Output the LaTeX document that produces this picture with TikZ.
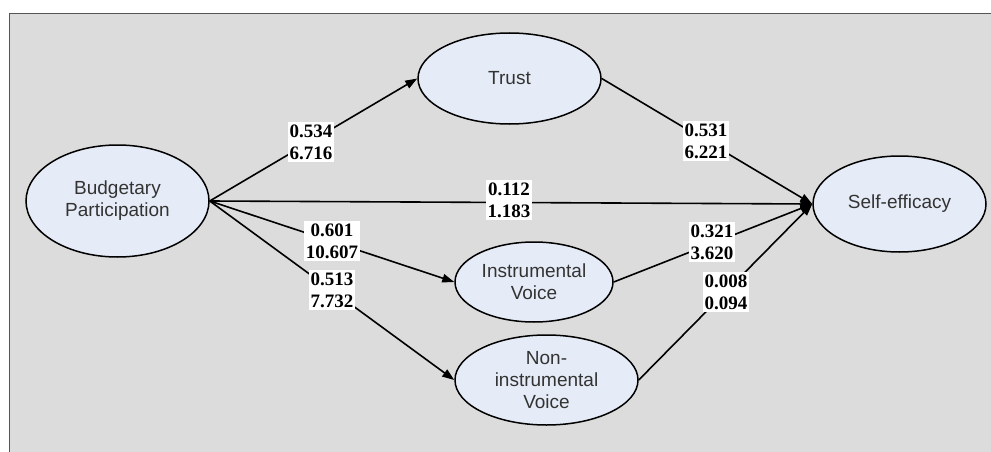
\documentclass[tikz,border=0pt]{standalone}
\usepackage{fontspec}
\setmainfont{Liberation Serif}
\setsansfont{Liberation Sans}
\usetikzlibrary{shapes.geometric,arrows.meta}
\definecolor{bgc}{HTML}{DCDCDD}
\definecolor{ellc}{HTML}{E6ECF7}
\definecolor{framec}{HTML}{555555}
\definecolor{txtc}{HTML}{333333}
\tikzset{
  latent/.style={ellipse, draw=black, line width=1.5pt, fill=ellc, inner sep=0pt,
    align=center, text=txtc, font=\sffamily\fontsize{19}{22}\selectfont},
  coef/.style={fill=white, inner xsep=1.5pt, inner ysep=2.5pt, align=center,
    font=\bfseries\fontsize{19}{22}\selectfont},
  path/.style={line width=1.6pt, -{Triangle[length=12pt,width=8.5pt]}}
}
\begin{document}
\begin{tikzpicture}[x=1pt,y=-1pt]
\useasboundingbox (0,0) rectangle (991,452);
\fill[white] (0,0) rectangle (991,452);
\draw[fill=bgc, draw=framec, line width=1.5pt] (9.5,13.5) rectangle (1000,470);

\node[latent, minimum width=183pt, minimum height=112pt] (bp) at (117.5,201) {Budgetary\\Participation};
\node[latent, minimum width=183pt, minimum height=91pt] (tr) at (509.5,78.5) {Trust};
\node[latent, minimum width=173pt, minimum height=96pt] (se) at (899.5,204) {Self-efficacy};
\node[latent, minimum width=158pt, minimum height=80pt] (iv) at (534,282) {Instrumental\\Voice};
\node[latent, minimum width=183pt, minimum height=90pt] (niv) at (546.5,380) {Non-\\instrumental\\Voice};

\draw[path] (bp.east) -- (tr.west);
\draw[path] (bp.east) -- (se.west);
\draw[path] (bp.east) -- (iv.west);
\draw[path] (bp.east) -- (niv.west);
\draw[path] (tr.east) -- (se.west);
\draw[path] (iv.east) -- (se.west);
\draw[path] (niv.east) -- (se.west);

\node[coef] (c1) at (311,142) {0.534\\6.716};
\node[coef] (c2) at (706,141) {0.531\\6.221};
\node[coef] (c3) at (509,200) {0.112\\1.183};
\node[coef] (c4) at (332,241) {0.601\\10.607};
\node[coef] (c5) at (332,290) {0.513\\7.732};
\node[coef] (c6) at (712,242) {0.321\\3.620};
\node[coef] (c7) at (726,292) {0.008\\0.094};
\end{tikzpicture}
\end{document}
